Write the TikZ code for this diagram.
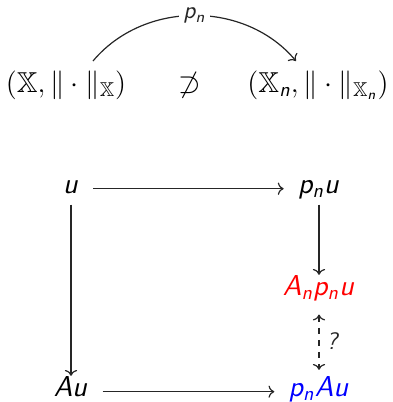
\documentclass[tikz,border=0pt]{standalone}
\usepackage{amsmath}
\usepackage{amssymb}
\usetikzlibrary{arrows.meta}
% sans oblique letters, as in a beamer frame
\DeclareMathAlphabet{\mathsi}{OT1}{cmss}{m}{sl}
\newcommand{\sv}[1]{\mathsi{#1}}
\newcommand{\pn}{\sv{p}_{\sv{n}}}
\tikzset{
  term/.style={
    font=\Large,
    inner xsep=7pt,
    inner ysep=3pt,
    text height=1.6ex,
    text depth=0.6ex,
    anchor=base
  },
  map/.style={
    ->,
    line width=0.6pt,
    color=black!85
  },
  query map/.style={
    <->,
    dashed,
    shorten <=4pt,
    shorten >=3pt,
    line width=0.6pt,
    color=black!85
  },
  map label/.style={
    font=\large,
    fill=white,
    inner sep=2pt
  }
}

\begin{document}
\begin{tikzpicture}[x=0.5pt, y=-0.5pt]
    \useasboundingbox (0,0) rectangle (392,402);

    % spaces (top row)
    \node[term] (X) at (66,92) {$(\mathbb{X},\|\cdot\|_{\mathbb{X}})$};
    \node[term] (nsup) at (190,92) {$\not\supset$};
    \node[term] (Xn) at (318,92) {$(\mathbb{X}_{\sv{n}},\|\cdot\|_{\mathbb{X}_{\sv{n}}})$};

    % projection arc
    \coordinate (arc start) at (93,61);
    \coordinate (arc end) at (296,61);
    \draw[map] (arc start) to[bend left=50]
      node[map label, pos=0.5] (pn map) {$\pn$} (arc end);

    % square
    \node[term] (u) at (71,193) {$\sv{u}$};
    \node[term] (pnu) at (319,193) {$\pn\sv{u}$};
    \node[term, red] (Anpnu) at (319,295) {$\sv{A}_{\sv{n}}\pn\sv{u}$};
    \node[term] (Au) at (71,396) {$\sv{A}\sv{u}$};
    \node[term, blue] (pnAu) at (319,396) {$\pn\sv{A}\sv{u}$};

    \draw[map] (u) -- (pnu);
    \draw[map] (u) -- (Au);
    \draw[map] (pnu) -- (Anpnu);
    \draw[map] (Au) -- (pnAu);
    \draw[query map] (Anpnu) -- node[right, font=\large] (query) {\textsf{\slshape ?}} (pnAu);

  \end{tikzpicture}
\end{document}
